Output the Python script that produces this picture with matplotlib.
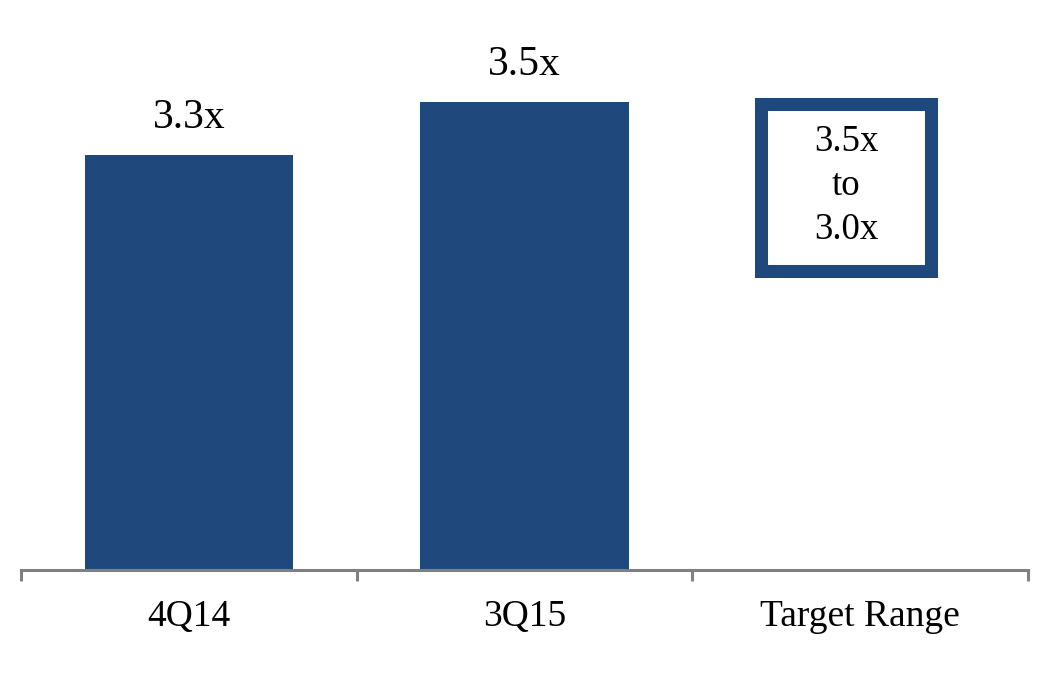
import matplotlib
matplotlib.use("Agg")
import matplotlib.pyplot as plt
from matplotlib.patches import Rectangle
from matplotlib.ticker import FixedLocator, NullFormatter

categories = ["4Q14", "3Q15", "Target Range"]
values = [3.3, 3.5]
value_labels = ["3.3x", "3.5x"]
target_text = "3.5x\nto\n3.0x"
target_high = 3.5
target_low = 3.0

bar_color = "#1F497D"
axis_color = "#808080"

plt.rcParams["font.family"] = ["Liberation Serif", "DejaVu Serif"]

fig = plt.figure(figsize=(10.5, 6.9), dpi=100)
ax = fig.add_axes([0.02, 1 - 570 / 690, 1028 / 1050 - 0.02, 570 / 690])

x = list(range(len(values)))
bars = ax.bar(x, values, width=0.62, color=bar_color, zorder=2)
for xi, v, lab in zip(x, values, value_labels):
    ax.annotate(lab, (xi, v), xytext=(0, 13), textcoords="offset points",
                ha="center", va="bottom", fontsize=30, color="black")

ax.set_xlim(-0.5, len(categories) - 0.5)
ax.set_ylim(1.734, 3.885)

# target range box
rect = Rectangle((1.706, 2.864), 2.210 - 1.706, 3.494 - 2.864,
                 facecolor="white", edgecolor=bar_color, linewidth=9.4,
                 joinstyle="miter", clip_on=False, zorder=3)
ax.add_patch(rect)
ax.text(1.958, (2.864 + 3.494) / 2 + 0.005, target_text, ha="center", va="center",
        fontsize=26.6, linespacing=1.36, zorder=4)

for s in ["top", "right", "left"]:
    ax.spines[s].set_visible(False)
ax.spines["bottom"].set_color(axis_color)
ax.spines["bottom"].set_linewidth(2.2)
ax.set_yticks([])

ax.xaxis.set_major_locator(FixedLocator([i - 0.5 for i in range(len(categories) + 1)]))
ax.xaxis.set_major_formatter(NullFormatter())
ax.xaxis.set_minor_locator(FixedLocator(list(range(len(categories)))))
ax.set_xticklabels(categories, minor=True, fontsize=27)
ax.tick_params(axis="x", which="major", direction="out", length=8, width=2.2, color=axis_color)
ax.tick_params(axis="x", which="minor", length=0, pad=21)

fig.savefig("out.png", dpi=100, facecolor="white")
